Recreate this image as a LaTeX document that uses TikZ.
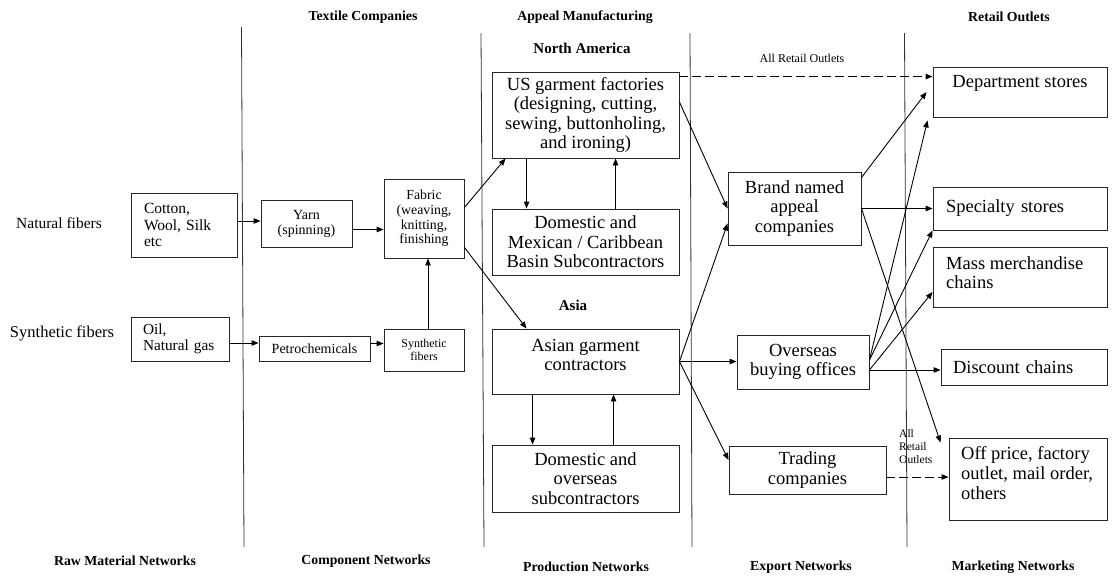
\documentclass[tikz,border=0pt]{standalone}
\usepackage{fontspec}
\setmainfont{Liberation Serif}
\usetikzlibrary{arrows.meta}
\newcommand\fsz[2]{\fontsize{#1}{#2}\selectfont}
\begin{document}
\begin{tikzpicture}[x=1pt,y=-1pt,
  box/.style={draw=black!85, line width=0.9pt, inner sep=0pt, align=center},
  big/.style={font=\fsz{18.5}{19.6}},
  hdr/.style={font=\fsz{13.8}{16}\bfseries},
  sub/.style={font=\fsz{15}{17}\bfseries},
  arr/.style={-{Triangle[length=7pt,width=5.5pt]}, line width=0.9pt},
  dasharr/.style={arr, dash pattern=on 9pt off 4pt},
  sepline/.style={line width=0.8pt, draw=black!80}
]
\useasboundingbox (0,0) rectangle (1115,576);

% separators
\coordinate (l1t) at (241.5,27); \coordinate (l1b) at (244,547);
\coordinate (l2t) at (481,33);   \coordinate (l2b) at (484,547);
\coordinate (l3t) at (690,33);   \coordinate (l3b) at (692,547);
\coordinate (l4t) at (904.5,33); \coordinate (l4b) at (907,547);
\draw[sepline] (l1t) -- (l1b);
\draw[sepline] (l2t) -- (l2b);
\draw[sepline] (l3t) -- (l3b);
\draw[sepline] (l4t) -- (l4b);

% headers
\node[hdr] (h1) at (363,17) {Textile Companies};
\node[hdr] (h2) at (585,17) {Appeal Manufacturing};
\node[hdr] (h3) at (1009,17) {Retail Outlets};
\node[sub] (na) at (582,48) {North America};
\node[sub] (asia) at (573,305) {Asia};
\node[hdr] (f1) at (125,561) {Raw Material Networks};
\node[hdr] (f2) at (366,561) {Component Networks};
\node[hdr] (f3) at (586,567) {Production Networks};
\node[hdr] (f4) at (801,567) {Export Networks};
\node[hdr] (f5) at (1013,567) {Marketing Networks};

% side labels
\node[font=\fsz{15.5}{17}] (natural) at (59,223) {Natural fibers};
\node[font=\fsz{16.5}{18}] (synthetic) at (62,333) {Synthetic fibers};

% raw material / component
\node[box, minimum width=106pt, minimum height=64pt, text width=80pt, inner xsep=13pt, align=left, font=\fsz{15.5}{16.5}] (cotton) at (184,225) {Cotton,\\Wool, Silk\\etc};
\node[box, minimum width=98pt, minimum height=44pt, text width=74pt, inner xsep=12pt, align=left, font=\fsz{15.3}{16}] (oil) at (180,339) {Oil,\\Natural gas};
\node[box, minimum width=91pt, minimum height=47pt, font=\fsz{14}{15}] (yarn) at (306.5,223.5) {Yarn\\(spinning)};
\node[box, minimum width=80pt, minimum height=79pt, font=\fsz{13.8}{14.7}] (fabric) at (424,218.5) {Fabric\\(weaving,\\knitting,\\finishing};
\node[box, minimum width=111pt, minimum height=25pt, font=\fsz{14}{15}] (petro) at (314.5,348.5) {Petrochemicals};
\node[box, minimum width=80pt, minimum height=42pt, font=\fsz{12}{13}] (synf) at (424,350) {Synthetic\\fibers};

% production
\node[box, big, minimum width=187pt, minimum height=86pt] (us) at (585.5,115) {US garment factories\\(designing, cutting,\\sewing, buttonholing,\\and ironing)};
\node[box, big, minimum width=187pt, minimum height=66pt] (dommex) at (585.5,242) {Domestic and\\Mexican / Caribbean\\Basin Subcontractors};
\node[box, minimum width=187pt, minimum height=65pt] (asian) at (585.5,361.5) {};
\node[big, align=center] (asiant) at (585.5,355) {Asian garment\\contractors};
\node[box, big, minimum width=187pt, minimum height=67pt] (domov) at (585.5,478.5) {Domestic and\\overseas\\subcontractors};

% export
\node[box, big, minimum width=133pt, minimum height=73pt] (brand) at (794.5,208.5) {Brand named\\appeal\\companies};
\node[box, big, minimum width=132pt, minimum height=54pt] (overseas) at (803,362) {Overseas\\buying offices};
\node[box, big, minimum width=157pt, minimum height=48pt] (trading) at (807.5,470) {Trading\\companies};

% retail
\node[box, minimum width=174pt, minimum height=50pt] (dept) at (1020,92) {};
\node[big] (deptt) at (1020,83) {Department stores};
\node[box, big, minimum width=174pt, minimum height=43pt, text width=148pt, inner xsep=13pt, align=left] (spec) at (1020,208.5) {Specialty stores};
\node[box, minimum width=174pt, minimum height=60pt] (mass) at (1020,277) {};
\node[big, align=left, anchor=west, inner xsep=0pt] (masst) at (946,272.5) {Mass merchandise\\chains};
\node[box, big, minimum width=166pt, minimum height=36pt, text width=142pt, inner xsep=12pt, align=left] (disc) at (1024,367) {Discount chains};
\node[box, minimum width=158pt, minimum height=82pt] (offp) at (1028,479) {};
\node[big, align=left, anchor=west, inner xsep=0pt] (offpt) at (961,473) {Off price, factory\\outlet, mail order,\\others};

% small labels
\node[font=\fsz{12}{13}] (allr1) at (802,58) {All Retail Outlets};
\node[font=\fsz{11.5}{13}, align=left, anchor=west, inner xsep=0pt] (allr2) at (899,447) {All\\Retail\\Outlets};

% connectors
\coordinate (a1) at ([yshift=4pt]cotton.east);
\draw[arr] (a1) -- (a1 -| yarn.west);
\coordinate (a2) at ([yshift=-6pt]yarn.east);
\draw[arr] (a2) -- (a2 -| fabric.west);
\coordinate (a3) at ([yshift=-4pt]oil.east);
\draw[arr] (a3) -- (a3 -| petro.west);
\coordinate (a4) at ([yshift=5pt]petro.east);
\draw[arr] (a4) -- (a4 -| synf.west);
\coordinate (a5) at ([xshift=4pt]synf.north);
\draw[arr] (a5) -- (a5 |- fabric.south);
\draw[arr] ([yshift=11pt]fabric.east) -- ([xshift=14pt]us.south west);
\draw[arr] ([yshift=11pt]fabric.south east) -- ([xshift=35pt]asian.north west);
\coordinate (a6) at ([xshift=35pt]us.south west);
\draw[arr] (a6) -- (a6 |- dommex.north);
\coordinate (a7) at ([xshift=124pt]dommex.north west);
\draw[arr] (a7) -- (a7 |- us.south);
\coordinate (a8) at ([xshift=41pt]asian.south west);
\draw[arr] (a8) -- (a8 |- domov.north);
\coordinate (a9) at ([xshift=122pt]domov.north west);
\draw[arr] (a9) -- (a9 |- asian.south);
\draw[arr] ([yshift=13pt]us.east) -- (brand.west);
\draw[arr] (asian.east) -- ([yshift=-15pt]brand.west);
\draw[arr] (asian.east) -- (asian.east -| overseas.west);
\draw[arr] (asian.east) -- ([yshift=10pt]trading.west);
\coordinate (a10) at ([yshift=-5pt]us.north east);
\draw[dasharr] (a10) -- (a10 -| dept.west);
\draw[arr] ([yshift=-6pt]brand.north east) -- ([xshift=-6pt]dept.west);
\draw[arr] (brand.east) -- (spec.west);
\draw[arr] (brand.east) -- ([xshift=-8pt,yshift=-5pt]offp.north west);
\coordinate (a11) at ([yshift=2pt]overseas.east);
\draw[arr] (a11) -- ([xshift=-5pt,yshift=-3pt]dept.south west);
\draw[arr] (a11) -- (spec.south west);
\coordinate (a12) at ([yshift=-8pt]overseas.east);
\draw[arr] (a12) -- ([yshift=-15pt]mass.west);
\draw[arr] (a12) -- (a12 -| disc.west);
\coordinate (a13) at ([yshift=-7pt]trading.east);
\draw[dasharr] (a13) -- (a13 -| offp.west);
\end{tikzpicture}
\end{document}
